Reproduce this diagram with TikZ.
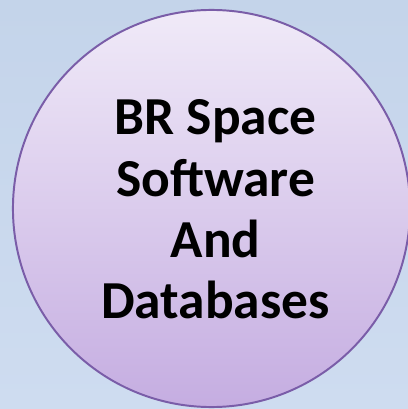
\documentclass[tikz,border=0pt]{standalone}
\usepackage{fontspec}
\setmainfont{Carlito}
\usepackage{tikz}
\usetikzlibrary{positioning,calc}

\definecolor{bgtop}{HTML}{C4D4EA}
\definecolor{bgbot}{HTML}{CEDCF0}
\definecolor{disktop}{HTML}{F0EAF8}
\definecolor{diskbot}{HTML}{C5ADE1}
\definecolor{diskrim}{HTML}{7A5DA8}

\tikzset{
  disk/.style={circle, draw=diskrim, line width=1.4pt, inner sep=0pt,
    top color=disktop, bottom color=diskbot, minimum size=9.925cm},
  title/.style={align=center, font=\fontsize{38}{43.5}\selectfont\bfseries}
}

\begin{document}
\begin{tikzpicture}[x=0.025cm, y=0.025cm]
    % background
    \shade[top color=bgtop, bottom color=bgbot] (0,0) rectangle (408,409);
    \useasboundingbox (0,0) rectangle (408,409);

    \node [disk] (circ) at (211.5,200.5) {};
    \node [title] (label) at ([xshift=0.1cm, yshift=-0.02cm]circ.center)
        {BR Space\\Software\\And\\Databases};
\end{tikzpicture}
\end{document}
